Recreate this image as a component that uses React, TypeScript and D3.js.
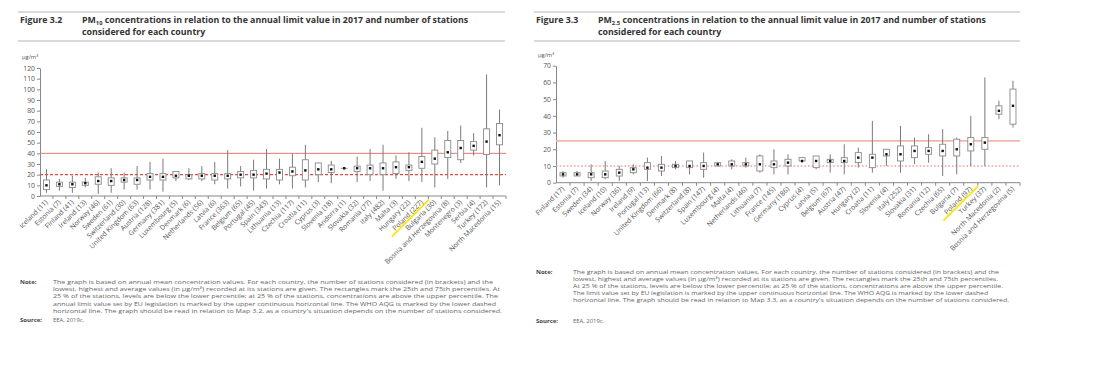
import * as d3 from "d3";
import { useEffect, useRef } from "react";

// PM10 (figure 3.2)
const pm10Countries = [
  "Iceland (11)", "Estonia (7)", "Finland (41)", "Ireland (13)", "Norway (46)", "Sweden (61)",
  "Switzerland (30)", "United Kingdom (63)", "Austria (128)", "Germany (381)", "Luxembourg (5)",
  "Denmark (6)", "Netherlands (56)", "Latvia (6)", "France (363)", "Belgium (65)", "Portugal (45)",
  "Spain (343)", "Lithuania (13)", "Czechia (117)", "Croatia (11)", "Cyprus (3)", "Slovenia (18)",
  "Andorra (1)", "Slovakia (32)", "Romania (77)", "Italy (482)", "Malta (3)", "Hungary (22)",
  "Poland (227)", "Bulgaria (30)", "Bosnia and Herzegovina (8)", "Montenegro (3)", "Serbia (4)",
  "Turkey (172)", "North Macedonia (15)",
];
const pm10Min = [3, 5, 3, 8, 2, 3, 6, 6, 6, 4, 14, 15, 14, 11, 7, 9, 5, 7, 11, 7, 8, 13, 12, 26, 13, 14, 5, 16, 14, 13, 8, 16, 31, 38, 8, 10];
const pm10Q1 = [6, 9, 8, 10, 11, 10, 13, 11, 15, 15, 17, 16, 16, 15, 16, 17, 17, 16, 15, 19, 15, 20, 22, 26, 23, 20, 20, 21, 24, 26, 30, 36, 34, 43, 39, 48];
const pm10Mean = [10, 11, 11, 12, 14, 14, 15, 15, 18, 18, 19, 19, 19, 19, 19, 20, 20, 21, 22, 23, 24, 25, 25, 26, 26, 26, 26, 27, 27, 32, 35, 41, 45, 47, 51, 57];
const pm10Q3 = [15, 13, 13, 13, 18, 17, 17, 17, 21, 21, 23, 20, 21, 21, 21, 23, 24, 25, 25, 27, 34, 31, 29, 26, 28, 29, 31, 32, 29, 37, 43, 52, 52, 51, 63, 68];
const pm10Max = [25, 16, 19, 17, 22, 26, 22, 28, 32, 35, 23, 26, 28, 32, 43, 28, 34, 44, 35, 40, 48, 31, 33, 26, 37, 44, 48, 38, 41, 64, 55, 61, 66, 59, 114, 81];
const pm10Ticks = [0, 10, 20, 30, 40, 50, 60, 70, 80, 90, 100, 110, 120];

// PM2.5 (figure 3.3)
const pm25Countries = [
  "Finland (17)", "Estonia (7)", "Sweden (34)", "Iceland (10)", "Norway (36)", "Ireland (9)",
  "Portugal (13)", "United Kingdom (66)", "Denmark (8)", "Switzerland (8)", "Spain (147)",
  "Luxembourg (4)", "Malta (4)", "Netherlands (46)", "Lithuania (7)", "France (145)",
  "Germany (186)", "Cyprus (4)", "Latvia (5)", "Belgium (67)", "Austria (47)", "Hungary (2)",
  "Croatia (11)", "Slovenia (4)", "Italy (252)", "Slovakia (31)", "Romania (12)", "Czechia (65)",
  "Bulgaria (7)", "Poland (97)", "Turkey (37)", "North Macedonia (2)", "Bosnia and Herzegovina (5)",
];
const pm25Min = [3, 4, 1, 2, 1, 5, 1, 4, 8, 5, 3, 10, 8, 9, 6, 5, 5, 12, 8, 6, 5, 9, 6, 10, 6, 11, 12, 4, 5, 10, 10, 38, 33];
const pm25Q1 = [4, 4, 3, 3, 4, 6, 8, 7, 9, 9, 8, 10, 10, 10, 7, 9, 10, 13, 9, 12, 12, 12, 9, 16, 13, 15, 17, 16, 16, 19, 20, 41, 35];
const pm25Mean = [5, 5, 5, 5, 6, 8, 9, 9, 10, 10, 10, 11, 11, 11, 11, 11, 12, 13, 13, 13, 13, 15, 15, 17, 17, 19, 19, 19, 20, 23, 24, 43, 46];
const pm25Q3 = [6, 6, 6, 7, 8, 9, 12, 11, 11, 13, 12, 12, 13, 12, 16, 13, 14, 15, 16, 14, 15, 18, 17, 20, 22, 22, 21, 23, 26, 27, 27, 46, 56];
const pm25Max = [7, 7, 11, 13, 10, 11, 15, 16, 13, 13, 18, 12, 14, 15, 17, 20, 17, 15, 16, 17, 23, 21, 37, 20, 34, 27, 29, 32, 27, 40, 63, 49, 61];
const pm25Ticks = [0, 10, 20, 30, 40, 50, 60, 70];

const note32 = [
  "The graph is based on annual mean concentration values. For each country, the number of stations considered (in brackets) and the",
  "lowest, highest and average values (in µg/m³) recorded at its stations are given. The rectangles mark the 25th and 75th percentiles. At",
  "25 % of the stations, levels are below the lower percentile; at 25 % of the stations, concentrations are above the upper percentile. The",
  "annual limit value set by EU legislation is marked by the upper continuous horizontal line. The WHO AQG is marked by the lower dashed",
  "horizontal line. The graph should be read in relation to Map 3.2, as a country's situation depends on the number of stations considered.",
];
const note33 = [
  "The graph is based on annual mean concentration values. For each country, the number of stations considered (in brackets) and the",
  "lowest, highest and average values (in µg/m³) recorded at its stations are given. The rectangles mark the 25th and 75th percentiles.",
  "At 25 % of the stations, levels are below the lower percentile; at 25 % of the stations, concentrations are above the upper percentile.",
  "The limit value set by EU legislation is marked by the upper continuous horizontal line. The WHO AQG is marked by the lower dashed",
  "horizontal line. The graph should be read in relation to Map 3.3, as a country's situation depends on the number of stations considered.",
];

const FONT = "'Open Sans', 'Noto Sans', sans-serif";

function drawPanel(svg, p) {
  const g = svg.append("g");

  // header rules + title
  g.append("line").attr("x1", p.ruleX0).attr("x2", p.ruleX1).attr("y1", 12).attr("y2", 12).attr("stroke", "#b5b5b5");
  g.append("line").attr("x1", p.ruleX0).attr("x2", p.ruleX1).attr("y1", 41).attr("y2", 41).attr("stroke", "#b5b5b5");
  g.append("text").attr("x", p.ruleX0 + 2).attr("y", 23).attr("font-weight", 700).attr("font-size", 8.8).attr("fill", "#333").text(p.figure);
  const t = g.append("text").attr("x", p.titleX).attr("y", 23).attr("font-weight", 700).attr("font-size", 8.8).attr("fill", "#333");
  t.append("tspan").text("PM");
  t.append("tspan").attr("font-size", 5.8).attr("dy", 1.5).text(p.sub);
  t.append("tspan").attr("dy", -1.5).text(" concentrations in relation to the annual limit value in 2017 and number of stations");
  g.append("text").attr("x", p.titleX).attr("y", 35).attr("font-weight", 700).attr("font-size", 8.8).attr("fill", "#333").text("considered for each country");

  const x = d3.scaleBand().domain(p.countries).range([p.x0, p.x1]);
  const y = d3.scaleLinear().domain([0, p.yMax]).range([p.yBottom, p.yTop]);

  g.append("text").attr("x", p.x0 - 18).attr("y", p.yTop - 9).attr("font-size", 5.8).attr("fill", "#555").text("µg/m³");

  // y axis
  const ya = g.append("g").attr("transform", `translate(${p.x0},0)`)
    .call(d3.axisLeft(y).tickValues(p.ticks).tickSize(3).tickSizeOuter(0));
  ya.select(".domain").attr("stroke", "#888");
  ya.selectAll(".tick line").attr("stroke", "#888");
  ya.selectAll(".tick text").attr("font-size", 6.8).attr("fill", "#555").attr("font-family", FONT).attr("x", -5);

  // x axis baseline and band-edge ticks
  const xa = g.append("g").attr("transform", `translate(0,${p.yBottom})`);
  xa.append("line").attr("x1", p.x0).attr("x2", p.x1).attr("stroke", "#888");
  xa.selectAll(".xt").data(p.countries).enter().append("line")
    .attr("x1", (d) => x(d) + x.bandwidth()).attr("x2", (d) => x(d) + x.bandwidth())
    .attr("y1", 0).attr("y2", 3).attr("stroke", "#888");

  // reference lines
  g.append("line").attr("x1", p.x0).attr("x2", p.x1).attr("y1", y(p.limit)).attr("y2", y(p.limit))
    .attr("stroke", p.limitColor).attr("stroke-width", p.limitWidth);
  g.append("line").attr("x1", p.x0).attr("x2", p.x1).attr("y1", y(p.who)).attr("y2", y(p.who))
    .attr("stroke", p.whoColor).attr("stroke-width", p.whoWidth).attr("stroke-dasharray", p.whoDash);

  // boxes
  const bw = 6;
  const items = g.selectAll(".bx").data(p.countries).enter().append("g");
  const cx = (d) => x(d) + x.bandwidth() / 2;
  items.append("line").attr("x1", cx).attr("x2", cx)
    .attr("y1", (d, i) => y(p.min[i])).attr("y2", (d, i) => y(p.max[i]))
    .attr("stroke", "#7a7a7a").attr("stroke-width", 1);
  items.append("rect").attr("x", (d) => cx(d) - bw / 2).attr("width", bw)
    .attr("y", (d, i) => y(p.q3[i])).attr("height", (d, i) => Math.max(0.01, y(p.q1[i]) - y(p.q3[i])))
    .attr("fill", "#fff").attr("stroke", "#8a8a8a").attr("stroke-width", 0.9);
  items.append("rect").attr("x", (d) => cx(d) - 1.2).attr("width", 2.4)
    .attr("y", (d, i) => y(p.mean[i]) - 1.2).attr("height", 2.4).attr("fill", "#111");

  // country labels
  const labels = g.selectAll(".lb").data(p.countries).enter().append("g")
    .attr("transform", (d) => `translate(${cx(d)},${p.yBottom + 5}) rotate(-45)`);
  labels.each(function (d) {
    const sel = d3.select(this);
    if (d.startsWith("Poland")) {
      const len = d.length * 3.7 + 2;
      sel.append("line").attr("x1", -len).attr("x2", 6).attr("y1", 4).attr("y2", 4)
        .attr("stroke", "#ffe600").attr("stroke-width", 1.8);
    }
    sel.append("text").attr("text-anchor", "end").attr("font-size", 6.9).attr("fill", "#555")
      .attr("dy", "0.35em").text(d);
  });

  // notes
  g.append("text").attr("x", p.ruleX0 + 2).attr("y", p.noteY).attr("font-size", 6).attr("font-weight", 700).attr("fill", "#444").text("Note:");
  p.note.forEach((line, i) => {
    g.append("text").attr("x", p.noteX).attr("y", p.noteY + i * p.noteGap).attr("font-size", 5.9).attr("fill", "#666")
      .attr("textLength", p.noteLen[i]).attr("lengthAdjust", "spacingAndGlyphs").text(line);
  });
  g.append("text").attr("x", p.ruleX0 + 2).attr("y", p.sourceY).attr("font-size", 6).attr("font-weight", 700).attr("fill", "#444").text("Source:");
  g.append("text").attr("x", p.noteX).attr("y", p.sourceY).attr("font-size", 5.9).attr("fill", "#666").text("EEA, 2019c.");
}

export default function App() {
  const ref = useRef(null);

  useEffect(() => {
    document.body.style.margin = "0";
    const svg = d3.select(ref.current);
    svg.selectAll("*").remove();

    drawPanel(svg, {
      figure: "Figure 3.2", sub: "10", ruleX0: 18, ruleX1: 505, titleX: 82,
      countries: pm10Countries, min: pm10Min, q1: pm10Q1, mean: pm10Mean, q3: pm10Q3, max: pm10Max,
      ticks: pm10Ticks, yMax: 120, x0: 40, x1: 506, yBottom: 196, yTop: 68,
      limit: 40, limitColor: "#e9776e", limitWidth: 1,
      who: 20, whoColor: "#e8473a", whoWidth: 1.1, whoDash: "3,2",
      note: note32, noteLen: [440, 447, 445, 443, 449], noteX: 53, noteY: 284, noteGap: 7.2, sourceY: 322,
    });
    drawPanel(svg, {
      figure: "Figure 3.3", sub: "2.5", ruleX0: 534, ruleX1: 1020, titleX: 598,
      countries: pm25Countries, min: pm25Min, q1: pm25Q1, mean: pm25Mean, q3: pm25Q3, max: pm25Max,
      ticks: pm25Ticks, yMax: 70, x0: 556, x1: 1020, yBottom: 182.7, yTop: 65.7,
      limit: 25, limitColor: "#f6b4ae", limitWidth: 1.8,
      who: 10, whoColor: "#f3a199", whoWidth: 1.6, whoDash: "1.6,2",
      note: note33, noteLen: [426, 425, 430, 415, 436], noteX: 573, noteY: 274, noteGap: 7, sourceY: 323,
    });
  }, []);

  return (
    <svg ref={ref} width={1100} height={374} style={{ display: "block", background: "#fff", fontFamily: FONT }} />
  );
}
